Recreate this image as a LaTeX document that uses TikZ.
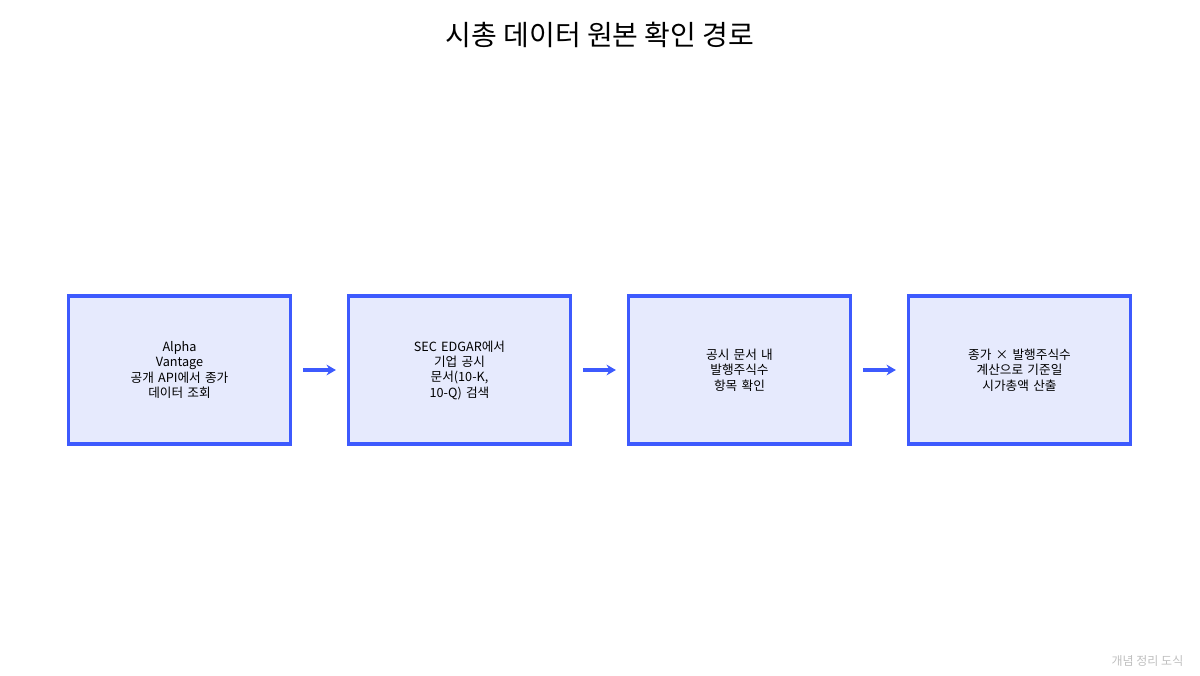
\documentclass[tikz,border=0pt]{standalone}
\usepackage{fontspec}
\setmainfont{Noto Sans CJK KR}
\usetikzlibrary{arrows.meta}
\definecolor{bd}{HTML}{3D5AFE}
\definecolor{fl}{HTML}{E6EAFD}
\begin{document}
\begin{tikzpicture}[x=0.75pt,y=-0.75pt,
 box/.style={draw=bd,fill=fl,line width=2.4pt,minimum width=167pt,minimum height=111pt,align=center,font=\fontsize{9.5pt}{11.5pt}\selectfont,text width=80pt},
 arr/.style={draw=bd,line width=2.4pt,-{Stealth[length=7pt,width=8pt]}}]
\useasboundingbox (0,0) rectangle (1200,675);
\node[font=\fontsize{21pt}{24pt}\selectfont] (t) at (600,35) {시총 데이터 원본 확인 경로};
\node[box] (a) at (179.5,370) {Alpha\\Vantage\\공개 API에서 종가\\데이터 조회};
\node[box] (b) at (459.5,370) {SEC EDGAR에서\\기업 공시\\문서(10-K,\\10-Q) 검색};
\node[box] (c) at (739.5,370) {공시 문서 내\\발행주식수 항목 확인};
\node[box] (d) at (1019.5,370) {종가 × 발행주식수\\계산으로 기준일\\시가총액 산출};
\draw[arr] ([xshift=8pt]a.east) -- ([xshift=-8pt]b.west);
\draw[arr] ([xshift=8pt]b.east) -- ([xshift=-8pt]c.west);
\draw[arr] ([xshift=8pt]c.east) -- ([xshift=-8pt]d.west);
\node[text=black!25,font=\fontsize{9pt}{10pt}\selectfont,anchor=east] (f) at (1188,661) {개념 정리 도식};
\end{tikzpicture}
\end{document}
